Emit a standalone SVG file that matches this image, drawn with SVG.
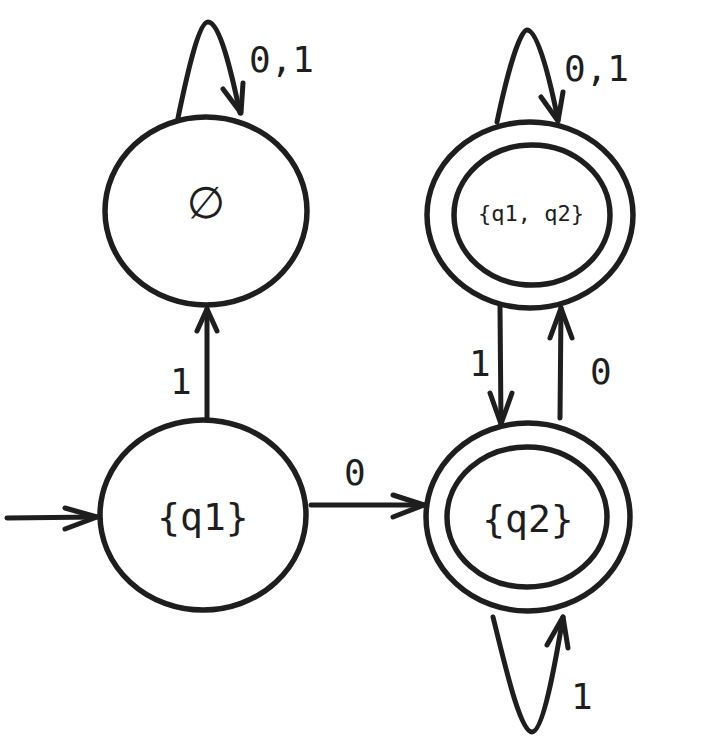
<svg xmlns="http://www.w3.org/2000/svg" width="709" height="752" viewBox="0 0 709 752">
<style>
.st{fill:none;stroke:#1e1e1e;stroke-width:5.5;stroke-linecap:round;stroke-linejoin:round}
.ln{fill:none;stroke:#1e1e1e;stroke-width:5;stroke-linecap:round;stroke-linejoin:round}
.lb{font-family:"DejaVu Sans Mono","Liberation Mono",monospace;font-size:36px;fill:#1e1e1e}
.nm{font-family:"DejaVu Sans Mono","Liberation Mono",monospace;fill:#1e1e1e;text-anchor:middle}
</style>
<rect width="709" height="752" fill="#ffffff"/>
<g id="node-empty">
<ellipse class="st" cx="206" cy="211" rx="101" ry="94"/>
<text x="206" y="218" font-family="DejaVu Sans, sans-serif" font-size="44" fill="#1e1e1e" text-anchor="middle">∅</text>
</g>
<g id="node-q1q2">
<ellipse class="st" cx="530" cy="215" rx="103" ry="93"/>
<ellipse class="st" cx="532" cy="215" rx="78" ry="70"/>
<text class="nm" x="531" y="221" font-size="22">{q1, q2}</text>
</g>
<g id="node-q1">
<ellipse class="st" cx="203" cy="515" rx="103" ry="95"/>
<text class="nm" x="203" y="530" font-size="38">{q1}</text>
</g>
<g id="node-q2">
<ellipse class="st" cx="528" cy="517" rx="102" ry="94"/>
<ellipse class="st" cx="527" cy="517" rx="80" ry="70"/>
<text class="nm" x="528" y="532" font-size="38">{q2}</text>
</g>
<g id="connectors">
<path class="ln" d="M178,118 C190,60 200,22 208,22 C220,22 232,75 240,113"/>
<path class="ln" d="M223,89 L241,113 L243,83"/>
<path class="ln" d="M497,122 C508,70 520,30 527,30 C538,30 550,80 558,120"/>
<path class="ln" d="M541,97 L558,121 L563,92"/>
<path class="ln" d="M7,518 L97,517"/>
<path class="ln" d="M65,508 L97,517 L65,529"/>
<path class="ln" d="M207,418 L207,309"/>
<path class="ln" d="M197,331 L207,309 L217,331"/>
<path class="ln" d="M311,505 L424,505"/>
<path class="ln" d="M393,495 L424,505 L393,517"/>
<path class="ln" d="M500,307 L501,424"/>
<path class="ln" d="M490,393 L501,424 L512,393"/>
<path class="ln" d="M560,418 L561,308"/>
<path class="ln" d="M550,338 L561,308 L572,338"/>
<path class="ln" d="M493,617 C505,665 520,732 532,732 C543,732 555,665 563,617"/>
<path class="ln" d="M547,645 L563,617 L568,648"/>
</g>
<g id="labels">
<text class="lb" x="249" y="72">0,1</text>
<text class="lb" x="564" y="81">0,1</text>
<text class="lb" x="170" y="394">1</text>
<text class="lb" x="344" y="485">0</text>
<text class="lb" x="469" y="376">1</text>
<text class="lb" x="590" y="384">0</text>
<text class="lb" x="571" y="709">1</text>
</g>
</svg>
